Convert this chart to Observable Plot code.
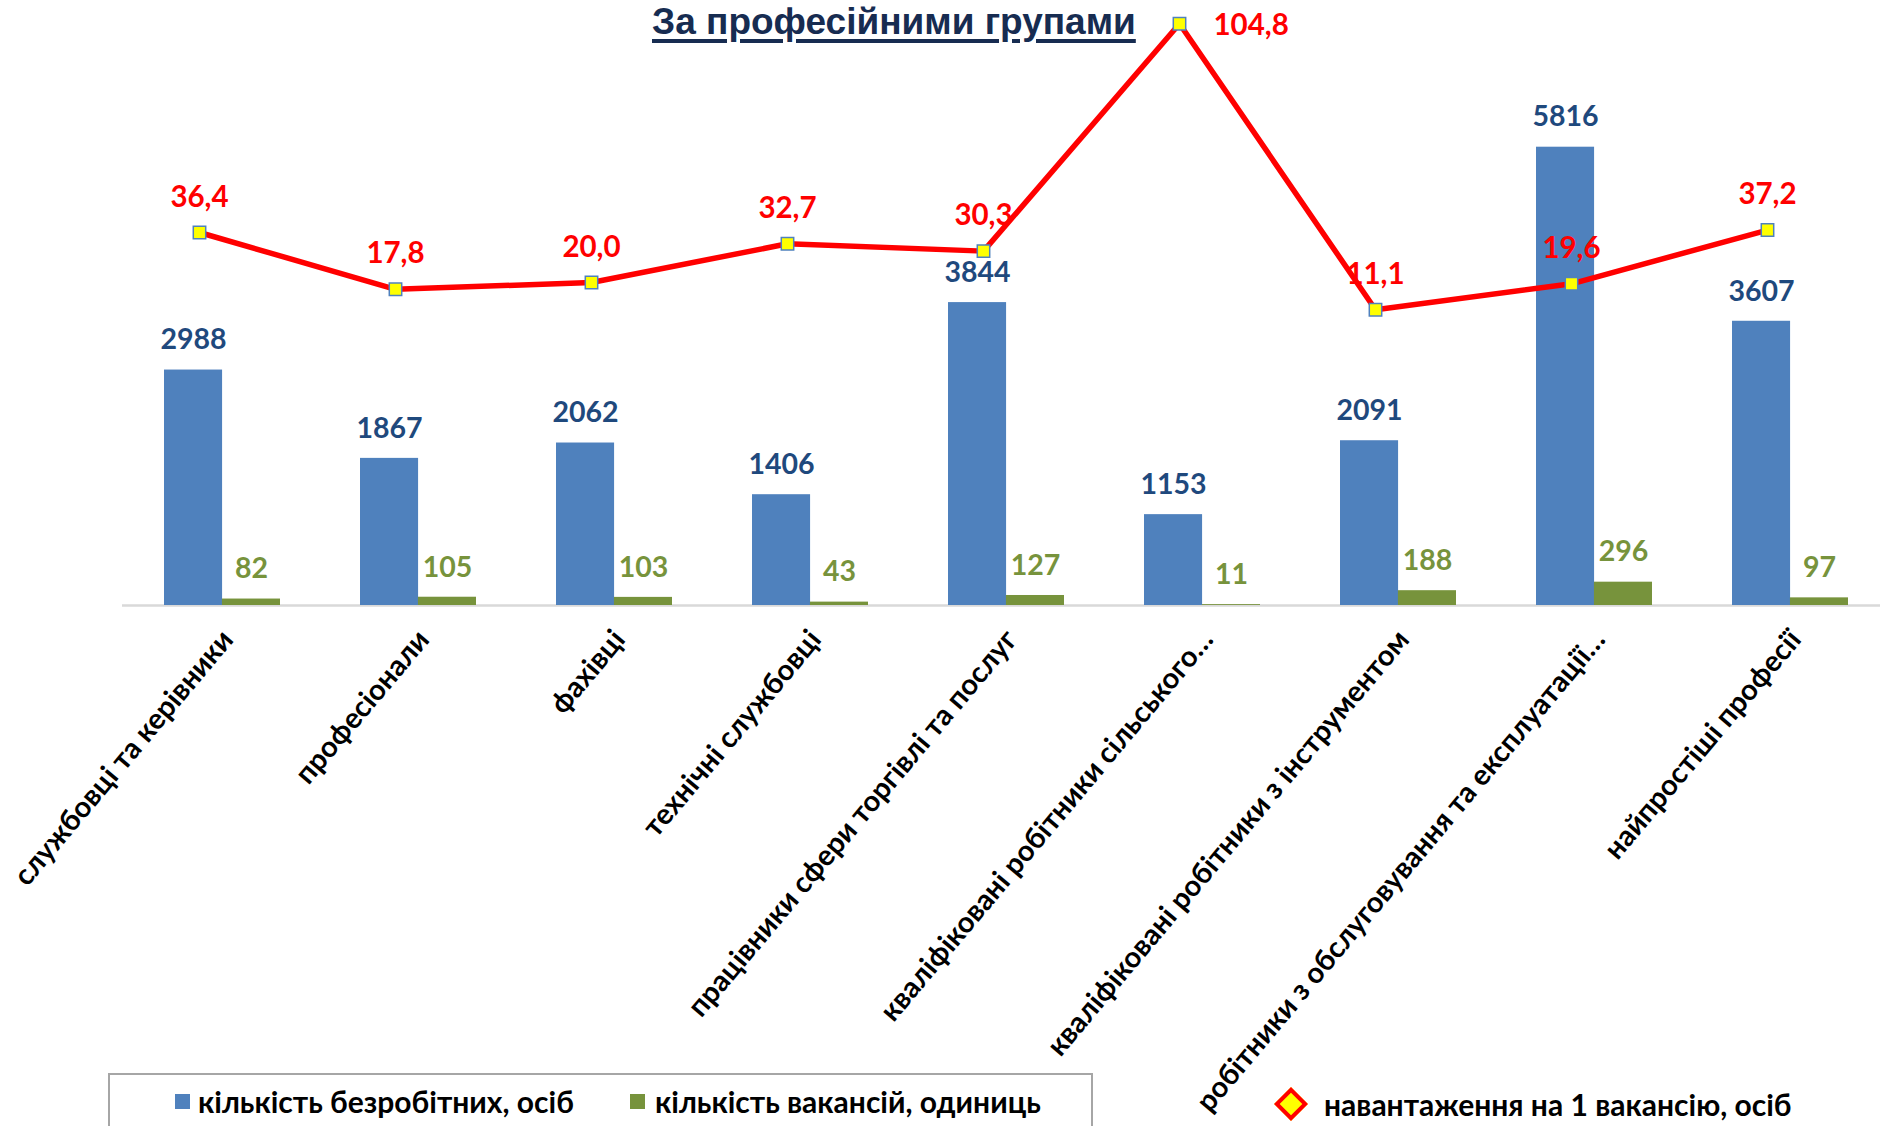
<!DOCTYPE html>
<html><head><meta charset="utf-8">
<script src="https://cdn.jsdelivr.net/npm/d3@7"></script>
<script src="https://cdn.jsdelivr.net/npm/@observablehq/plot@0.6"></script>
<style>
body{margin:0;background:#fff;overflow:hidden}
#wrap{position:relative;width:1880px;height:1126px;overflow:hidden;background:#fff}
#wrap svg{position:absolute;left:0;top:0;overflow:visible}
.title{position:absolute;left:652px;top:3px;font-family:"Liberation Sans",Arial,sans-serif;font-weight:bold;font-size:37px;line-height:37px;color:#172c51;text-decoration:underline;text-decoration-thickness:3.5px;text-underline-offset:5px;white-space:nowrap}
.legbox{position:absolute;left:108px;top:1073px;width:985px;height:90px;border:2px solid #a6a6a6;box-sizing:border-box}
.leg{position:absolute;font-family:Lato,sans-serif;font-weight:bold;font-size:30px;line-height:32px;color:#000;white-space:nowrap}
.sw{position:absolute;width:15px;height:15px}
.dia{position:absolute;width:16px;height:16px;background:#ffff00;border:4px solid #ff0000;transform:rotate(45deg)}
</style></head>
<body><div id="wrap"></div>
<script>
const categories = [
  "службовці та керівники",
  "професіонали",
  "фахівці",
  "технічні службовці",
  "працівники сфери торгівлі та послуг",
  "кваліфіковані робітники сільського…",
  "кваліфіковані робітники з інструментом",
  "робітники з обслуговування та експлуатації…",
  "найпростіші професії"
];
const unemployed = [2988, 1867, 2062, 1406, 3844, 1153, 2091, 5816, 3607];
const vacancies = [82, 105, 103, 43, 127, 11, 188, 296, 97];
const load = [36.4, 17.8, 20.0, 32.7, 30.3, 104.8, 11.1, 19.6, 37.2];
const seriesNames = ["кількість безробітних, осіб", "кількість вакансій, одиниць", "навантаження на 1 вакансію, осіб"];
const titleText = "За професійними групами";

const W = 1880, H = 1126;
const mL = 122, mR = -9;
const pInner = 0.41, pOuter = 0.205;
const step = (W - mL - mR) / (categories.length - pInner + 2 * pOuter);
const bw = step * (1 - pInner);
const half = bw / 2, quarter = bw / 4;
const rows = categories.map((c, i) => ({category: c, unemployed: unemployed[i], vacancies: vacancies[i], load: load[i]}));
const peak = d3.max(load);
const fmt = v => v.toFixed(1).replace(".", ",");
const font = {fontFamily: "Lato, sans-serif", fontWeight: "bold"};

const bars = Plot.plot({
  width: W, height: H,
  marginLeft: mL, marginRight: mR, marginTop: 53.4, marginBottom: H - 605,
  x: {domain: categories, paddingInner: pInner, paddingOuter: pOuter, axis: null},
  y: {domain: [0, 7000], axis: null},
  style: {...font, background: "transparent", overflow: "visible"},
  marks: [
    Plot.ruleY([0], {stroke: "#d9d9d9", strokeWidth: 2.5}),
    Plot.barY(rows, {x: "category", y: "unemployed", fill: "#4f81bd", insetRight: half}),
    Plot.barY(rows, {x: "category", y: "vacancies", fill: "#77933c", insetLeft: half}),
    Plot.text(rows, {x: "category", y: "unemployed", dx: -quarter, dy: -20.7, lineAnchor: "bottom",
      text: d => String(d.unemployed), fill: "#1f497d", fontSize: 28.5, fontWeight: "bold"}),
    Plot.text(rows, {x: "category", y: "vacancies", dx: quarter, dy: -20.7, lineAnchor: "bottom",
      text: d => String(d.vacancies), fill: "#77933c", fontSize: 28.5, fontWeight: "bold"}),
    Plot.text(categories, {x: d => d, frameAnchor: "bottom", rotate: -50, textAnchor: "end", lineAnchor: "middle",
      dx: 5, dy: 29, fontSize: 29, fontWeight: "bold", fill: "#000"})
  ]
});

const line = Plot.plot({
  width: W, height: H,
  marginLeft: mL, marginRight: mR, marginTop: 37.9, marginBottom: H - 343.1,
  x: {domain: categories, paddingInner: pInner, paddingOuter: pOuter, axis: null},
  y: {domain: [0, 100], axis: null},
  style: {...font, background: "transparent", overflow: "visible"},
  marks: [
    Plot.line(rows, {x: "category", y: "load", dx: -23, stroke: "#ff0000", strokeWidth: 5.5, curve: "linear"}),
    Plot.dot(rows, {x: "category", y: "load", dx: -23, symbol: "square", r: 7, fill: "#ffff00", stroke: "#4f81bd", strokeWidth: 1.5}),
    Plot.text(rows.filter(d => d.load < peak), {x: "category", y: "load", dx: -23, dy: -26, lineAnchor: "bottom",
      text: d => fmt(d.load), fill: "#ff0000", fontSize: 29.5, fontWeight: "bold"}),
    Plot.text(rows.filter(d => d.load === peak), {x: "category", y: "load", dx: 11, dy: 2, textAnchor: "start", lineAnchor: "middle",
      text: d => fmt(d.load), fill: "#ff0000", fontSize: 29.5, fontWeight: "bold"})
  ]
});

const wrap = document.getElementById("wrap");
wrap.appendChild(bars);
wrap.appendChild(line);

const t = document.createElement("div");
t.className = "title"; t.textContent = titleText; wrap.appendChild(t);

const box = document.createElement("div"); box.className = "legbox"; wrap.appendChild(box);
function addSw(color, left, top) { const s = document.createElement("div"); s.className = "sw"; s.style.background = color; s.style.left = left + "px"; s.style.top = top + "px"; wrap.appendChild(s); }
function addLeg(text, left, top) { const s = document.createElement("div"); s.className = "leg"; s.textContent = text; s.style.left = left + "px"; s.style.top = top + "px"; wrap.appendChild(s); }
addSw("#4f81bd", 175, 1094); addLeg(seriesNames[0], 198, 1085);
addSw("#77933c", 630, 1094); addLeg(seriesNames[1], 655, 1085);
const dia = document.createElement("div"); dia.className = "dia"; dia.style.left = "1279px"; dia.style.top = "1092px"; wrap.appendChild(dia);
addLeg(seriesNames[2], 1324, 1088);
</script>
</body></html>
